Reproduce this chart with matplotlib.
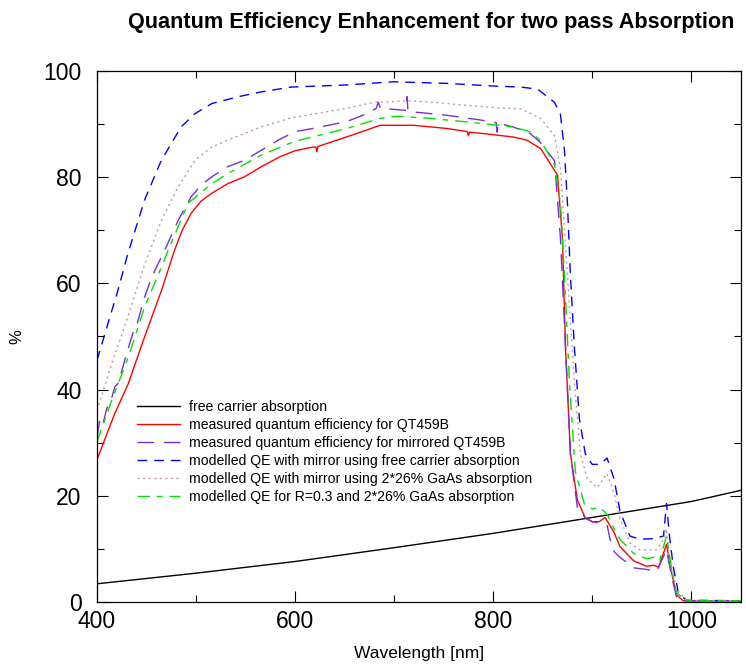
import matplotlib
matplotlib.use('Agg')
import matplotlib.pyplot as plt
from matplotlib.ticker import MultipleLocator

plt.rcParams['font.family'] = ['Liberation Sans', 'DejaVu Sans']

# free carrier absorption
wl_fca = [400, 500, 600, 700, 800, 900, 1000, 1050]
fca = [3.4, 5.4, 7.6, 10.2, 12.9, 15.9, 18.9, 21.0]

# measured quantum efficiency for QT459B
wl_meas = [400, 418, 431.6, 448, 465, 478, 486, 495, 505, 516, 532, 549, 566, 585, 600,
           618, 621, 622, 623, 652, 686, 720, 753, 774, 775, 776, 787, 820, 834, 848,
           865, 870, 873, 878, 885, 893, 900, 907, 913, 922, 928, 942, 955, 962, 967,
           975, 980, 985, 992, 1050]
meas = [26.8, 35.5, 41.1, 49.9, 58.6, 66.1, 70.0, 73.2, 75.5, 77.0, 78.8, 80.1, 82.0, 83.9, 85.0,
        85.7, 85.7, 84.8, 85.8, 87.6, 89.8, 89.8, 89.2, 88.6, 87.8, 88.5, 88.3, 87.6, 87.0, 85.4,
        80.4, 68.3, 48.1, 27.9, 19.2, 15.8, 15.1, 15.1, 15.9, 13.1, 10.4, 7.7, 6.7, 6.9, 6.5,
        10.8, 5.7, 1.3, 0.2, 0.2]

# measured quantum efficiency for mirrored QT459B
wl_mirr = [400, 403, 406, 410, 415, 418, 421, 425, 428, 431, 436, 440, 448, 456, 468,
           482, 495, 505, 516, 532, 549, 566, 583, 600, 618, 652, 670, 682, 684, 686,
           700, 712, 713, 714, 720, 753, 787, 803, 804, 805, 820, 837, 847, 862, 868,
           873, 878, 885, 893, 900, 908, 915, 918, 922, 928, 942, 955, 965, 975, 980,
           985, 995, 1050]
mirr = [31.0, 34.5, 33.5, 36.5, 38.5, 40.5, 41.1, 43.5, 45.5, 47.4, 50.5, 52.0, 57.4, 61.5, 66.1,
        71.9, 76.3, 78.5, 80.1, 82.0, 83.2, 85.1, 87.0, 88.6, 89.2, 90.5, 91.8, 93.0, 94.2, 93.0,
        92.8, 92.6, 95.2, 92.5, 92.3, 91.7, 90.8, 90.3, 88.5, 90.2, 89.5, 88.3, 86.7, 83.1, 68.3,
        48.1, 27.9, 17.8, 15.8, 15.1, 14.8, 14.5, 11.8, 9.5, 8.4, 6.4, 6.1, 5.7, 9.8, 5.0,
        1.0, 0.2, 0.2]

# modelled QE with mirror using free carrier absorption
wl_mod_fc = [400, 411, 421, 431, 448, 465, 485, 499, 516, 543, 566, 596, 652, 699, 753,
             800, 828, 845, 862, 868, 872, 875, 878, 882, 887, 893, 900, 908, 915, 922,
             928, 938, 948, 962, 972, 975, 978, 982, 987, 995, 1050]
mod_fc = [45.5, 52.4, 58.6, 65.5, 75.7, 83.2, 89.5, 92.0, 93.9, 95.2, 96.1, 97.0, 97.4, 98.0, 97.7,
          97.2, 97.0, 96.6, 94.1, 91.8, 85.0, 75.0, 61.5, 48.0, 34.6, 27.9, 25.9, 25.9, 27.1, 23.2,
          17.1, 12.4, 11.8, 11.9, 12.4, 18.5, 12.4, 6.4, 1.7, 0.3, 0.2]

# modelled QE with mirror using 2*26% GaAs absorption
wl_mod_gaas = [400, 415, 431, 448, 465, 482, 499, 516, 532, 566, 596, 618, 652, 679, 713,
               736, 770, 804, 828, 848, 862, 868, 875, 882, 888, 895, 905, 915, 922, 928,
               938, 948, 965, 972, 975, 978, 985, 995, 1050]
mod_gaas = [36.1, 44.9, 53.6, 63.5, 71.9, 78.2, 83.2, 85.7, 87.0, 89.5, 91.2, 91.9, 93.0, 94.1, 94.4,
            94.2, 93.6, 93.1, 92.9, 91.1, 87.8, 81.7, 61.5, 41.4, 27.9, 23.2, 21.5, 24.2, 20.5, 15.8,
            11.1, 9.8, 9.8, 11.8, 13.8, 7.7, 2.4, 0.3, 0.2]

# modelled QE for R=0.3 and 2*26% GaAs absorption
wl_mod_r = [400, 415, 431.6, 448, 468, 471.5, 492, 516, 532, 566, 600, 618, 652, 686, 703,
            736, 770, 820, 837, 848, 862, 868, 872, 877, 883, 892, 900, 908, 915, 922,
            928, 942, 955, 962, 968, 975, 980, 985, 995, 1050]
mod_r = [30.2, 38.0, 46.1, 55.5, 64.4, 66.1, 75.1, 78.8, 80.7, 84.2, 86.8, 87.6, 89.2, 91.1, 91.5,
         91.1, 90.5, 89.5, 88.6, 86.9, 82.4, 75.0, 61.5, 41.4, 24.5, 18.5, 17.5, 17.8, 16.5, 13.8,
         11.8, 9.1, 8.1, 8.4, 7.7, 12.4, 6.4, 1.7, 0.2, 0.2]

fig = plt.figure(figsize=(7.46, 6.65), dpi=100)
ax = fig.add_axes([0.130, 0.095, 0.863, 0.798])

ax.plot(wl_fca, fca, color='black', lw=1.0, label='free carrier absorption')
ax.plot(wl_meas, meas, color='#ff0000', lw=1.0, label='measured quantum efficiency for QT459B')
ax.plot(wl_mirr, mirr, color='#7a2ed8', lw=1.0, dashes=(12, 7),
        label='measured quantum efficiency for mirrored QT459B')
ax.plot(wl_mod_fc, mod_fc, color='#0000ff', lw=1.0, dashes=(7, 5),
        label='modelled QE with mirror using free carrier absorption')
ax.plot(wl_mod_gaas, mod_gaas, color='#c49a9a', lw=1.0, dashes=(1.5, 2.5),
        label='modelled QE with mirror using 2*26% GaAs absorption')
ax.plot(wl_mod_r, mod_r, color='#00e000', lw=1.0, dashes=(9, 5, 4, 5),
        label='modelled QE for R=0.3 and 2*26% GaAs absorption')

ax.set_xlim(400, 1050)
ax.set_ylim(0, 100)
ax.xaxis.set_major_locator(MultipleLocator(200))
ax.xaxis.set_minor_locator(MultipleLocator(100))
ax.yaxis.set_major_locator(MultipleLocator(20))
ax.yaxis.set_minor_locator(MultipleLocator(10))
ax.tick_params(which='both', direction='in', top=True, right=True, width=0.8)
ax.tick_params(which='major', length=8, labelsize=16.5)
ax.tick_params(axis='x', which='major', pad=6)
ax.tick_params(axis='y', which='major', pad=11)
ax.tick_params(which='minor', length=5)
for s in ax.spines.values():
    s.set_linewidth(0.9)

ax.set_xlabel('Wavelength [nm]', fontsize=12.5, labelpad=9)
ax.set_ylabel('%', fontsize=12, labelpad=14)

ax.legend(loc='upper left', bbox_to_anchor=(0.062, 0.380), frameon=False, fontsize=10.1,
          handlelength=3.1, handletextpad=0.6, labelspacing=0.28,
          borderpad=0, borderaxespad=0)

fig.text(0.578, 0.966, 'Quantum Efficiency Enhancement for two pass Absorption',
         ha='center', va='center', fontsize=15.6, fontweight='bold')

fig.savefig('out.png', dpi=100)
